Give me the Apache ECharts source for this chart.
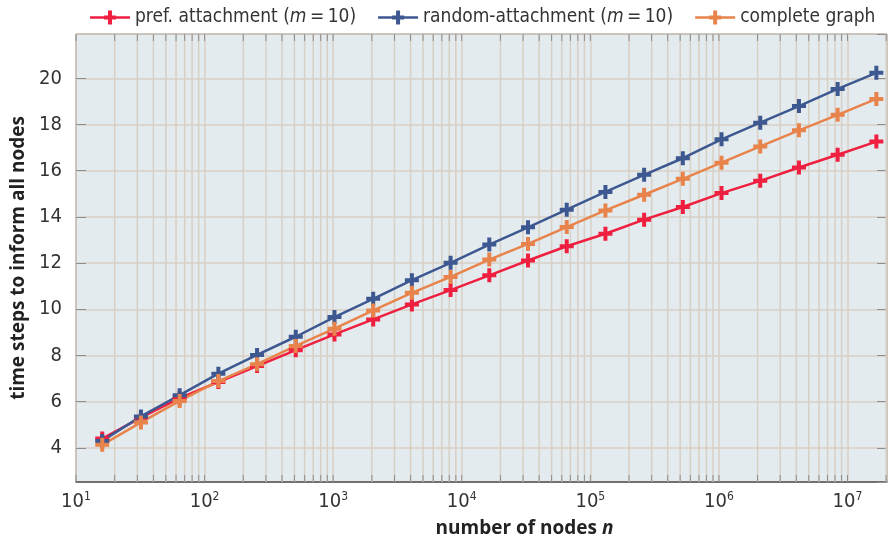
<!DOCTYPE html>
<html><head><meta charset="utf-8">
<script src="https://cdn.jsdelivr.net/npm/echarts@6/dist/echarts.min.js"></script>
<style>html,body{margin:0;padding:0;background:#fff}#c{width:888px;height:543px}</style>
</head><body><div id="c"></div>
<script>
// ---- data ----
const nodes = [16, 32, 64, 128, 256, 512, 1024, 2048, 4096, 8192, 16384, 32768, 65536,
  131072, 262144, 524288, 1048576, 2097152, 4194304, 8388608, 16777216];
const prefAttachment = [4.40, 5.31, 6.15, 6.85, 7.54, 8.23, 8.91, 9.56, 10.21, 10.83, 11.47,
  12.11, 12.73, 13.27, 13.88, 14.43, 15.03, 15.56, 16.14, 16.69, 17.26];
const randomAttachment = [4.30, 5.36, 6.28, 7.21, 8.02, 8.81, 9.66, 10.45, 11.26, 12.01, 12.80,
  13.55, 14.31, 15.08, 15.82, 16.54, 17.36, 18.08, 18.80, 19.54, 20.24];
const completeGraph = [4.13, 5.10, 6.03, 6.89, 7.62, 8.41, 9.16, 9.95, 10.71, 11.40, 12.15,
  12.83, 13.56, 14.28, 14.96, 15.65, 16.35, 17.05, 17.75, 18.42, 19.11];
const seriesNames = ['pref. attachment (m\u2009=\u200910)', 'random-attachment (m\u2009=\u200910)', 'complete graph'];
const seriesColors = ['#ee1f3f', '#3d5891', '#e8834b'];
const xDecades = [10, 100, 1000, 10000, 100000, 1000000, 10000000];
const yTickLabels = [4, 6, 8, 10, 12, 14, 16, 18, 20];

const X_MIN = 10, X_MAX = 2.03e7, Y_MIN = 2.52, Y_MAX = 21.92;
const GRID = '#d8cfc5', TICK = '#8d8d8d';
const NARROW = "'Liberation Sans Narrow', 'DejaVu Sans Condensed', 'Roboto', sans-serif";
const TITLE = "'Open Sans', 'Noto Sans', sans-serif";

// all x tick positions (decades + minor 2..9 within each decade)
const xTickVals = [];
xDecades.forEach(d => {
  xTickVals.push([d, Y_MIN, 1]);
  for (let m = 2; m <= 9; m++) { const v = m * d; if (v < X_MAX) xTickVals.push([v, Y_MIN, 0]); }
});

const PLUS = 'path://M-2,-7h4v5h5v4h-5v5h-4v-5h-5v-4h5z';
const LEGEND_ICON = 'path://M0,5.8h40v2.4H0z M18,0h4v14h-4z M14,5h12v4h-12z';

const chart = echarts.init(document.getElementById('c'));
const lineSeries = [prefAttachment, randomAttachment, completeGraph].map((vals, i) => ({
  name: seriesNames[i], type: 'line', z: 3,
  data: nodes.map((n, j) => [n, vals[j]]),
  symbol: PLUS, symbolSize: 14,
  lineStyle: { width: 2.5, color: seriesColors[i] },
  itemStyle: { color: seriesColors[i] },
  emphasis: { disabled: true }, animation: false
}));

chart.setOption({
  animation: false,
  legend: {
    data: seriesNames, left: 85, right: 0, top: 3, itemWidth: 40, itemHeight: 14, itemGap: 22,
    icon: LEGEND_ICON,
    formatter: name => name.replace('(m', '({i|m}'),
    textStyle: { fontFamily: NARROW, fontSize: 19, color: '#333',
      rich: { i: { fontFamily: NARROW, fontSize: 19, fontStyle: 'italic', color: '#333' } } }
  },
  grid: { left: 76, right: 1, top: 34, bottom: 59.5, show: true,
    backgroundColor: '#e3ebee', borderColor: '#555', borderWidth: 1 },
  xAxis: {
    type: 'log', logBase: 10, min: X_MIN, max: X_MAX,
    axisLine: { show: true, lineStyle: { color: '#555', width: 1.5 } },
    axisTick: { show: false },
    splitLine: { show: true, lineStyle: { color: GRID, width: 1.5 } },
    axisLabel: {
      margin: 9, showMaxLabel: false,
      formatter: v => {
        const e = Math.log10(v);
        if (Math.abs(e - Math.round(e)) > 1e-9) return '';
        return '{b|10}{s|' + Math.round(e) + '}';
      },
      rich: {
        b: { fontFamily: NARROW, fontSize: 20, color: '#333', lineHeight: 22 },
        s: { fontFamily: NARROW, fontSize: 12, color: '#333', verticalAlign: 'top', lineHeight: 22, padding: [0, 0, 8, 0] }
      }
    },
    name: 'number of nodes {i|n}', nameLocation: 'middle', nameGap: 37,
    nameTextStyle: { fontFamily: TITLE, fontWeight: 'bold', fontSize: 19, color: '#222', padding: [0, 0, 0, 86],
      rich: { i: { fontFamily: TITLE, fontWeight: 'bold', fontStyle: 'italic', fontSize: 19, color: '#222' } } }
  },
  yAxis: [{
    type: 'value', min: Y_MIN, max: Y_MAX, splitNumber: 10,
    axisLine: { show: false },
    axisTick: { show: true, inside: true, length: 10, lineStyle: { color: TICK } },
    splitLine: { show: true, lineStyle: { color: GRID, width: 1.5 } },
    axisLabel: {
      margin: 14, fontFamily: NARROW, fontSize: 20, color: '#333',
      showMinLabel: false, showMaxLabel: false,
      formatter: v => { const r = Math.round(v); return (Math.abs(v - r) < 1e-6 && yTickLabels.includes(r)) ? String(r) : ''; }
    },
    name: 'time steps to inform all nodes', nameLocation: 'middle', nameGap: 45,
    nameTextStyle: { fontFamily: TITLE, fontWeight: 'bold', fontSize: 19, color: '#222' }
  }, {
    type: 'value', position: 'right', min: Y_MIN, max: Y_MAX, splitNumber: 10,
    axisLine: { show: false }, axisLabel: { show: false }, splitLine: { show: false },
    axisTick: { show: true, inside: true, length: 10, lineStyle: { color: TICK } }
  }],
  series: [{
    type: 'custom', z: 1, silent: true, xAxisIndex: 0, yAxisIndex: 0,
    data: xTickVals, encode: { x: 0, y: 1 },
    renderItem: (params, api) => {
      const cs = params.coordSys;
      const x = api.coord([api.value(0), Y_MIN])[0];
      const major = api.value(2) === 1;
      const ch = [];
      if (!major) ch.push({ type: 'line', shape: { x1: x, y1: cs.y, x2: x, y2: cs.y + cs.height },
        style: { stroke: GRID, lineWidth: 1.5 } });
      ch.push({ type: 'line', shape: { x1: x, y1: cs.y + cs.height, x2: x, y2: cs.y + cs.height - 7 },
        style: { stroke: TICK, lineWidth: 1 } });
      ch.push({ type: 'line', shape: { x1: x, y1: cs.y, x2: x, y2: cs.y + 7 },
        style: { stroke: TICK, lineWidth: 1 } });
      return { type: 'group', children: ch };
    }
  }].concat(lineSeries)
});
</script>
</body></html>
